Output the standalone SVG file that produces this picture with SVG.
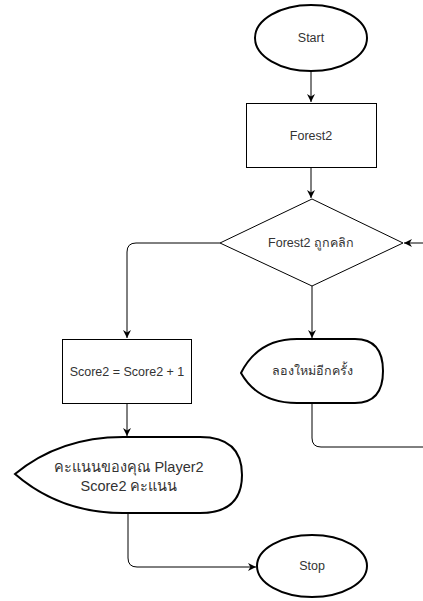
<svg xmlns="http://www.w3.org/2000/svg" width="423" height="601" viewBox="0 0 423 601">
<defs>
<style>
.thick{fill:#fff;stroke:#000;stroke-width:2}
.thin{fill:#fff;stroke:#000;stroke-width:1}
.edge{fill:none;stroke:#000;stroke-width:1}
text{font-family:"Liberation Sans","Noto Sans","DejaVu Sans",sans-serif;font-size:12.5px;fill:#333;text-anchor:middle;dominant-baseline:central}
.big{font-size:14.5px}
</style>
<marker id="arr" viewBox="0 0 10 10" refX="10" refY="5" markerWidth="8" markerHeight="8" markerUnits="userSpaceOnUse" orient="auto">
<path d="M0,0 L10,5 L0,10 L3,5 Z" fill="#000"/>
</marker>
</defs>
<rect width="423" height="601" fill="#fff"/>
<g id="connectors">
<path class="edge" d="M311,71 L311,102" marker-end="url(#arr)"/>
<path class="edge" d="M311,168 L311,198" marker-end="url(#arr)"/>
<path class="edge" d="M220,243 L136,243 Q127,243 127,252 L127,338" marker-end="url(#arr)"/>
<path class="edge" d="M312,286 L312,338" marker-end="url(#arr)"/>
<path class="edge" d="M312,403 L312,438 Q312,447 321,447 L433,447 L433,243 L404,243" marker-end="url(#arr)"/>
<path class="edge" d="M127,404 L127,436" marker-end="url(#arr)"/>
<path class="edge" d="M128,513 L128,558 Q128,567 137,567 L256,567" marker-end="url(#arr)"/>
</g>
<g id="start">
<ellipse class="thick" cx="311" cy="38" rx="56" ry="33"/>
<text x="311" y="38">Start</text>
</g>
<g id="forest2">
<rect class="thin" x="246.5" y="103.5" width="130" height="64"/>
<text x="311" y="136">Forest2</text>
</g>
<g id="decision">
<polygon class="thin" points="312,199 403,243 312,286 220,243"/>
<text x="311" y="243">Forest2 ถูกคลิก</text>
</g>
<g id="score">
<rect class="thin" x="62.5" y="339.5" width="129" height="64"/>
<text x="127" y="372">Score2 = Score2 + 1</text>
</g>
<g id="retry">
<path class="thick" d="M241,373 Q258,339 297,339 L355,339 Q383,339 383,371 Q383,403 355,403 L297,403 Q258,403 241,373 Z"/>
<text x="312" y="371">ลองใหม่อีกครั้ง</text>
</g>
<g id="display">
<path class="thick" d="M15,474 Q60,437 123,437 L200,437 Q242,437 242,475 Q242,513 200,513 L123,513 Q60,513 15,474 Z"/>
<text class="big" x="129" y="467">คะแนนของคุณ Player2</text>
<text class="big" x="129" y="486">Score2 คะแนน</text>
</g>
<g id="stop">
<ellipse class="thick" cx="312" cy="566" rx="55" ry="31"/>
<text x="312" y="566">Stop</text>
</g>
</svg>
